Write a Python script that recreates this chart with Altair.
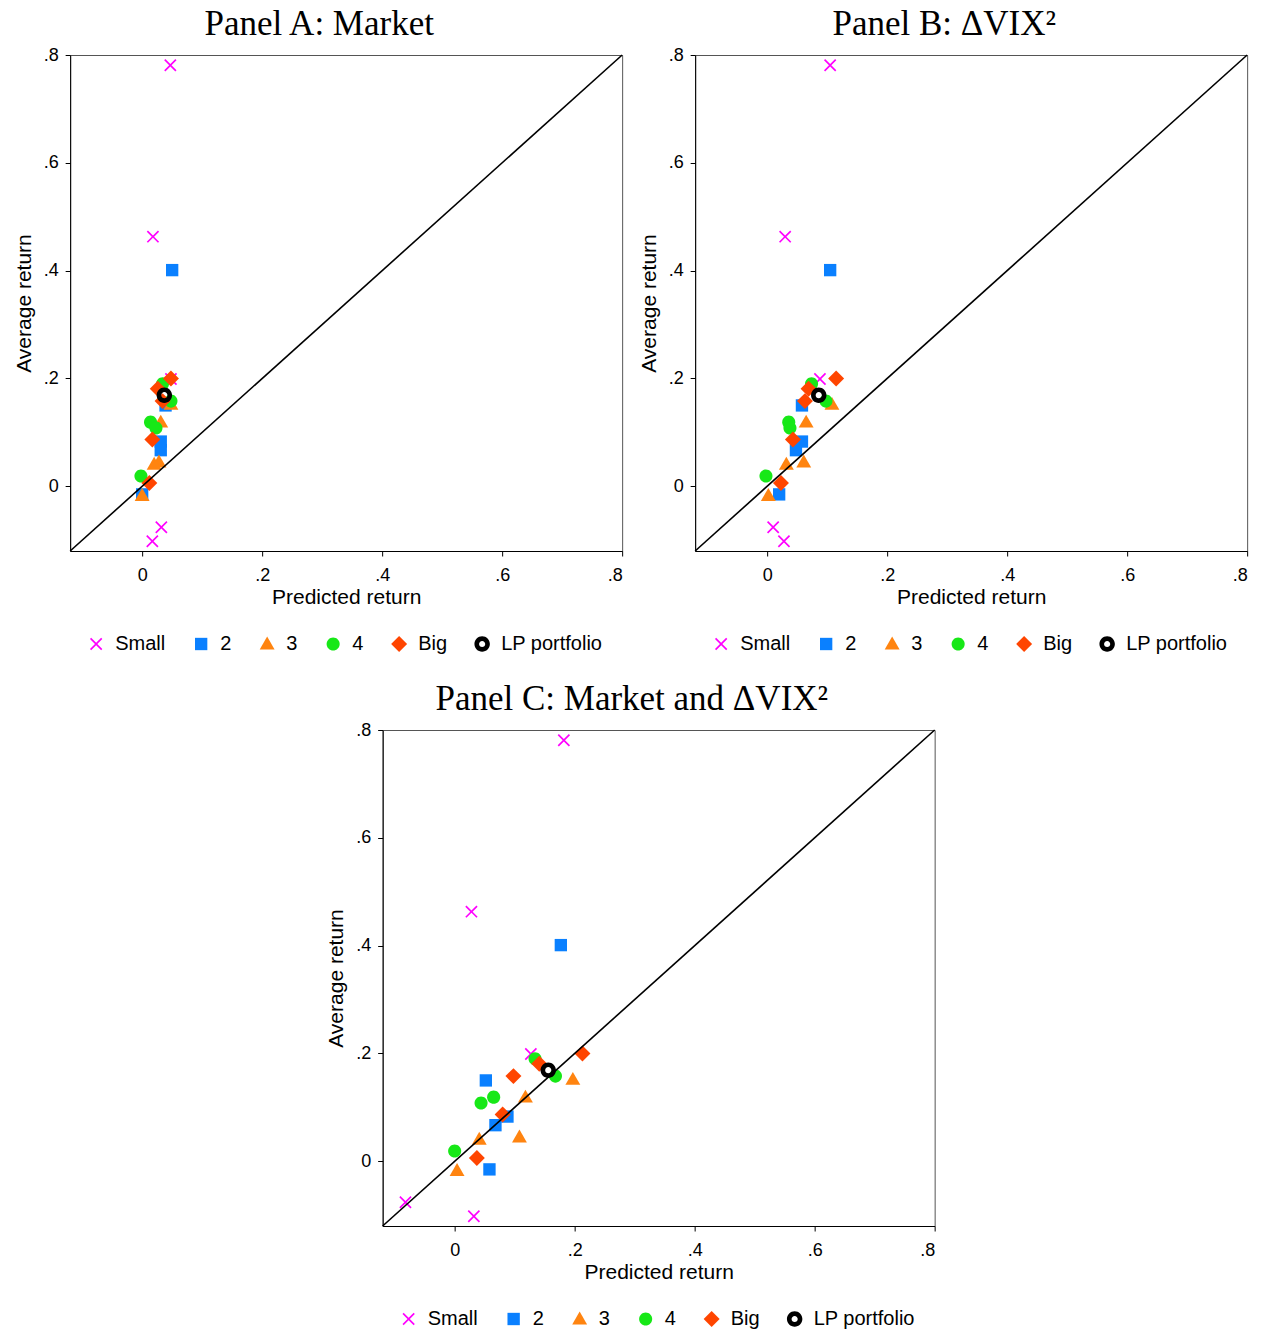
import altair as alt
import pandas as pd

# ---- data ----
groups = ["Small", "2", "3", "4", "Big", "LP portfolio"]
colors = ["#FF00FF", "#0A80FF", "#FF8410", "#17E817", "#FF4500", "#000000"]

avg_small = [0.781, 0.463, 0.199, -0.076, -0.102]
avg_2 = [0.401, 0.150, 0.083, 0.067, -0.015]
avg_3 = [0.152, 0.119, 0.045, 0.041, -0.017]
avg_4 = [0.190, 0.158, 0.119, 0.108, 0.019]
avg_big = [0.200, 0.181, 0.158, 0.087, 0.006]
avg_lp = [0.169]

predA_small = [0.047, 0.018, 0.048, 0.032, 0.017]
predA_2 = [0.050, 0.039, 0.031, 0.031, 0.000]
predA_3 = [0.048, 0.031, 0.028, 0.020, 0.000]
predA_4 = [0.034, 0.048, 0.014, 0.023, -0.002]
predA_big = [0.048, 0.026, 0.034, 0.017, 0.012]
predA_lp = [0.037]

predB_small = [0.105, 0.030, 0.088, 0.010, 0.028]
predB_2 = [0.105, 0.058, 0.058, 0.048, 0.020]
predB_3 = [0.108, 0.065, 0.061, 0.032, 0.002]
predB_4 = [0.074, 0.098, 0.036, 0.038, -0.002]
predB_big = [0.115, 0.069, 0.063, 0.043, 0.023]
predB_lp = [0.086]

predC_small = [0.182, 0.028, 0.127, -0.082, 0.032]
predC_2 = [0.177, 0.052, 0.088, 0.068, 0.058]
predC_3 = [0.197, 0.118, 0.108, 0.041, 0.004]
predC_4 = [0.134, 0.168, 0.065, 0.044, 0.000]
predC_big = [0.213, 0.141, 0.098, 0.080, 0.037]
predC_lp = [0.156]

axis_ticks = [0, 0.2, 0.4, 0.6, 0.8]
axis_domain = [-0.12, 0.8]

# ---- marker shapes ----
X_PATH = ("M-0.68,-0.55L-0.55,-0.68L0,-0.13L0.55,-0.68L0.68,-0.55L0.13,0"
          "L0.68,0.55L0.55,0.68L0,0.13L-0.55,0.68L-0.68,0.55L-0.13,0Z")
SQ_PATH = "M-0.68,-0.68L0.68,-0.68L0.68,0.68L-0.68,0.68Z"
TRI_PATH = "M0,-0.82L0.82,0.6L-0.82,0.6Z"
CIRC_PATH = "M-0.72,0A0.72,0.72,0,1,1,0.72,0A0.72,0.72,0,1,1,-0.72,0Z"
DIA_PATH = "M0,-0.88L0.88,0L0,0.88L-0.88,0Z"
RING_PATH = ("M-0.85,0A0.85,0.85,0,1,1,0.85,0A0.85,0.85,0,1,1,-0.85,0Z"
             "M-0.34,0A0.34,0.34,0,1,0,0.34,0A0.34,0.34,0,1,0,-0.34,0Z")
shapes = [X_PATH, SQ_PATH, TRI_PATH, CIRC_PATH, DIA_PATH, RING_PATH]

avg_all = [avg_small, avg_2, avg_3, avg_4, avg_big, avg_lp]


def make_df(preds):
    rows = []
    for g, xs, ys in zip(groups, preds, avg_all):
        for xv, yv in zip(xs, ys):
            rows.append({"group": g, "pred": xv, "avg": yv})
    return pd.DataFrame(rows)


label_expr = "datum.value == 0 ? '0' : slice(format(datum.value, '.1f'), 1)"
MSIZE = 330


def panel(preds, title):
    df = make_df(preds)
    xs = alt.Scale(domain=axis_domain, nice=False, zero=False)
    ys = alt.Scale(domain=axis_domain, nice=False, zero=False)
    legend = alt.Legend(
        orient="none", legendX=16, legendY=579, direction="horizontal",
        columns=6, title=None, labelFontSize=20, labelFont="Liberation Sans",
        labelColor="black", symbolSize=MSIZE, labelOffset=9, columnPadding=25,
        symbolStrokeWidth=0, symbolOpacity=1,
    )
    enc = dict(
        x=alt.X("pred:Q", scale=xs, title="Predicted return",
                axis=alt.Axis(values=axis_ticks, labelExpr=label_expr,
                              labelPadding=10, titlePadding=2)),
        y=alt.Y("avg:Q", scale=ys, title="Average return",
                axis=alt.Axis(values=axis_ticks, labelExpr=label_expr,
                              labelPadding=7, titlePadding=9)),
        color=alt.Color("group:N", scale=alt.Scale(domain=groups, range=colors),
                        legend=legend, sort=groups),
        shape=alt.Shape("group:N", scale=alt.Scale(domain=groups, range=shapes),
                        legend=legend, sort=groups),
    )
    base = alt.Chart(df)
    pts = base.mark_point(filled=True, size=MSIZE, opacity=1, strokeWidth=0).encode(
        **enc).transform_filter(alt.datum.group != "LP portfolio")
    lp = base.mark_point(filled=True, size=MSIZE, opacity=1, strokeWidth=0).encode(
        **enc).transform_filter(alt.datum.group == "LP portfolio")
    diag = alt.Chart(pd.DataFrame({"v": axis_domain})).mark_line(
        color="black", strokeWidth=1.6).encode(
        x=alt.X("v:Q", scale=xs), y=alt.Y("v:Q", scale=ys))
    return alt.layer(pts, diag, lp).properties(
        width=552, height=496,
        title=alt.TitleParams(title, font="Liberation Serif", fontSize=35,
                              fontWeight="normal", color="black",
                              anchor="middle", frame="bounds", offset=4),
    )


pA = panel([predA_small, predA_2, predA_3, predA_4, predA_big, predA_lp],
           "Panel A: Market")
pB = panel([predB_small, predB_2, predB_3, predB_4, predB_big, predB_lp],
           "Panel B: \u0394VIX\u00b2")
pC = panel([predC_small, predC_2, predC_3, predC_4, predC_big, predC_lp],
           "Panel C: Market and \u0394VIX\u00b2")

top = alt.hconcat(pA, pB, spacing=11).resolve_scale(
    color="independent", shape="independent").resolve_legend(
    color="independent", shape="independent")

chart = alt.vconcat(top, pC, spacing=26, center=True).resolve_scale(
    color="independent", shape="independent").resolve_legend(
    color="independent", shape="independent").properties(
    padding={"left": 12, "top": 6, "right": 5, "bottom": 5},
    background="white",
).configure_view(
    stroke="#555555", strokeWidth=1,
).configure_axis(
    grid=False, domainColor="black", domainWidth=1, tickColor="black",
    tickSize=5, tickWidth=1, labelFont="Liberation Sans", labelFontSize=18,
    labelColor="black", titleFont="Liberation Sans", titleFontSize=21,
    titleFontWeight="normal", titleColor="black",
).configure_axisY(labelAngle=0)

chart.save("out.html", embed_options={"renderer": "svg", "actions": False})
